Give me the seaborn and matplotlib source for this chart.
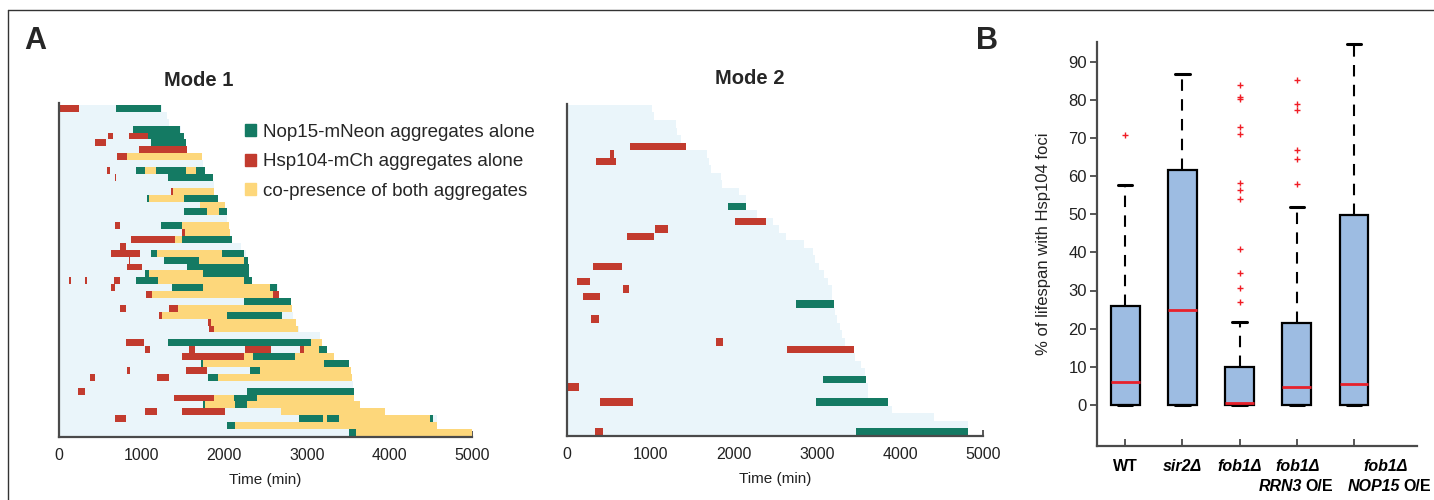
import numpy as np
import pandas as pd
import matplotlib
matplotlib.use('Agg')
import matplotlib.pyplot as plt
from matplotlib.patches import Patch
from matplotlib.lines import Line2D
import seaborn as sns

# ---- panel A data: one row per cell, lifespan = light blue background (min)
MODE1_LIFESPAN = [1240, 1300, 1335, 1470, 1515, 1531, 1550, 1730, 1735, 1770,
                  1860, 1875, 1878, 1920, 2010, 2030, 2036, 2061, 2070, 2090,
                  2202, 2265, 2285, 2300, 2302, 2340, 2645, 2660, 2810, 2820,
                  2836, 2865, 2900, 3160, 3184, 3244, 3332, 3515, 3535, 3550,
                  3564, 3572, 3575, 3645, 3950, 4580, 4582, 5010]

# (row, start, end)
MODE1_NOP15 = [(0, 687, 1228), (3, 897, 1463), (4, 1079, 1515), (5, 1107, 1531),
               (9, 930, 1039), (9, 1172, 1531), (9, 1653, 1770), (10, 1321, 1859),
               (13, 1063, 1091), (13, 1515, 1919), (15, 1511, 1786), (15, 1940, 2028),
               (17, 1228, 1483), (19, 1483, 2089), (21, 1107, 1188), (21, 1968, 2238),
               (22, 1273, 1697), (22, 2242, 2283), (23, 1548, 2299), (24, 1039, 1091),
               (24, 1746, 2299), (25, 929, 1200), (25, 2242, 2340), (26, 1370, 1746),
               (26, 2554, 2643), (28, 2238, 2804), (30, 2028, 2703), (34, 1321, 3046),
               (35, 3152, 3244), (36, 2344, 2855), (37, 1713, 1746), (37, 3212, 3515),
               (38, 2311, 2432), (39, 1802, 1923), (41, 2271, 3572), (42, 2117, 2400),
               (43, 1746, 1766), (43, 2130, 2271), (45, 2909, 3200), (45, 3244, 3394),
               (45, 4493, 4533), (46, 2028, 2133), (47, 3515, 3592)]

MODE1_HSP104 = [(0, 8, 239), (4, 594, 655), (4, 841, 1079), (5, 429, 566),
                (6, 970, 1548), (7, 703, 824), (9, 582, 614), (10, 671, 691),
                (12, 1350, 1382), (17, 671, 736), (18, 1483, 1527), (19, 865, 1406),
                (20, 736, 808), (21, 626, 978), (22, 841, 857), (23, 825, 1006),
                (25, 121, 138), (25, 311, 340), (25, 667, 736), (26, 630, 671),
                (27, 1051, 1120), (27, 2586, 2659), (29, 736, 808), (29, 1333, 1443),
                (30, 1212, 1241), (31, 1802, 1843), (32, 1818, 1875), (34, 808, 1022),
                (35, 1035, 1095), (35, 1576, 1649), (35, 2251, 2566), (35, 2913, 2970),
                (36, 1487, 2237), (38, 824, 857), (38, 1532, 1786), (39, 372, 433),
                (39, 1188, 1334), (41, 223, 315), (42, 1394, 1875), (44, 1035, 1184),
                (44, 1487, 2008), (45, 671, 808)]

MODE1_BOTH = [(7, 824, 1729), (9, 1039, 1172), (9, 1531, 1653), (12, 1382, 1875),
              (13, 1091, 1515), (14, 1709, 2008), (15, 1786, 1940), (17, 1483, 2061),
              (18, 1527, 2069), (19, 1406, 1483), (21, 1188, 1968), (22, 1697, 2242),
              (24, 1091, 1746), (25, 1200, 2242), (26, 1746, 2554), (27, 1120, 2586),
              (29, 1443, 2820), (30, 1241, 2028), (31, 1843, 2865), (32, 1875, 2897),
              (34, 3046, 3184), (35, 2970, 3152), (36, 2237, 2344), (36, 2855, 3332),
              (37, 1746, 3212), (38, 2432, 3531), (39, 1923, 3547), (42, 1875, 2117),
              (42, 2400, 3572), (43, 1766, 2130), (43, 2271, 3644), (44, 2687, 3947),
              (45, 3200, 3244), (45, 3394, 4493), (46, 2133, 4582), (47, 3592, 5010)]

MODE2_LIFESPAN = [1022, 1046, 1306, 1318, 1363, 1427, 1683, 1699, 1723, 1843,
                  1859, 2068, 2148, 2150, 2276, 2476, 2548, 2629, 2845, 2949,
                  2978, 3030, 3086, 3138, 3178, 3186, 3202, 3218, 3246, 3278,
                  3306, 3334, 3442, 3458, 3527, 3579, 3591, 3611, 3619, 3859,
                  3907, 4412, 4812, 4812]

MODE2_NOP15 = [(13, 1936, 2148), (26, 2749, 3202), (36, 3070, 3590),
               (39, 2990, 3859), (43, 3470, 4812)]

MODE2_HSP104 = [(5, 754, 1427), (6, 513, 565), (7, 345, 585), (15, 2012, 2389),
                (16, 1054, 1214), (17, 722, 1038), (21, 305, 661), (23, 121, 269),
                (24, 673, 738), (25, 193, 389), (28, 285, 377), (31, 1788, 1868),
                (32, 2645, 3442), (37, 0, 137), (39, 389, 794), (43, 329, 433)]

MODE2_BOTH = []

# ---- panel B data: % of lifespan with Hsp104 foci
GENOTYPES = ['WT', 'sir2Δ', 'fob1Δ', 'fob1Δ RRN3 O/E', 'fob1Δ NOP15 O/E']
Q1 = [0, 0, 0, 0, 0]
MEDIAN = [5.9, 25.0, 0.5, 4.6, 5.5]
Q3 = [26.0, 61.5, 10.0, 21.5, 49.8]
WHISK_LO = [0, 0, 0, 0, 0]
WHISK_HI = [57.7, 86.7, 21.7, 51.8, 94.7]
OUT_WT = [70.7]
OUT_SIR2 = []
OUT_FOB1 = [83.8, 80.6, 80.2, 72.9, 70.9, 58.3, 56.3, 54.1, 40.8, 34.7, 30.7, 27.1]
OUT_RRN3 = [85.2, 79.0, 77.3, 66.8, 64.5, 57.9]
OUT_NOP15 = []

GREEN = '#147a63'
RED = '#c23b2e'
YELLOW = '#fdd77b'
LIGHT = '#eaf5fa'
SPINE = '#4a4a4a'

sns.set_theme(style='ticks')
plt.rcParams['font.family'] = ['Liberation Sans', 'DejaVu Sans']
plt.rcParams['axes.edgecolor'] = SPINE

fig = plt.figure(figsize=(14.34, 5.0), dpi=100)
W, H = 1434, 500


def px_axes(left, top, right, bottom):
    return fig.add_axes([left / W, 1 - bottom / H, (right - left) / W, (bottom - top) / H])


def draw_mode(ax, life, nop, hsp, both, ylim):
    rows = np.arange(len(life))
    ax.barh(rows, life, left=0, height=1, align='edge', color=LIGHT, lw=0)
    for segs, col in [(both, YELLOW), (nop, GREEN), (hsp, RED)]:
        if not segs:
            continue
        df = pd.DataFrame(segs, columns=['row', 'start', 'end'])
        ax.barh(df['row'], df['end'] - df['start'], left=df['start'], height=1,
                align='edge', color=col, lw=0)
    ax.set_xlim(0, 5000)
    ax.set_ylim(*ylim)
    ax.set_yticks([])
    ax.set_xticks([0, 1000, 2000, 3000, 4000, 5000])
    ax.tick_params(axis='x', direction='in', length=4, width=1.3, color=SPINE,
                   labelsize=11.5, pad=8, labelcolor='#222')
    sns.despine(ax=ax)
    for s in ['left', 'bottom']:
        ax.spines[s].set_linewidth(1.6)
        ax.spines[s].set_color(SPINE)
    ax.set_xlabel('Time (min)', fontsize=11, labelpad=7, color='#222')


ax1 = px_axes(59.3, 103, 472, 437)
draw_mode(ax1, MODE1_LIFESPAN, MODE1_NOP15, MODE1_HSP104, MODE1_BOTH, (48.16, -0.29))

ax2 = px_axes(567.3, 104, 983.3, 436)
draw_mode(ax2, MODE2_LIFESPAN, MODE2_NOP15, MODE2_HSP104, MODE2_BOTH, (44.04, -0.13))

handles = [Patch(color=GREEN, label='Nop15-mNeon aggregates alone'),
           Patch(color=RED, label='Hsp104-mCh aggregates alone'),
           Patch(color=YELLOW, label='co-presence of both aggregates')]
ax1.legend(handles=handles, loc='upper left', bbox_to_anchor=(0.45, 0.937),
           frameon=False, fontsize=13.5, handlelength=0.6, handleheight=0.6,
           handletextpad=0.35, labelspacing=0.66, borderpad=0, borderaxespad=0)

fig.text(199 / W, 1 - 80 / H, 'Mode 1', fontsize=14.5, fontweight='bold', ha='center', va='center')
fig.text(750 / W, 1 - 79 / H, 'Mode 2', fontsize=14.5, fontweight='bold', ha='center', va='center')
fig.text(35.5 / W, 1 - 41 / H, 'A', fontsize=22, fontweight='bold', ha='center', va='center')
fig.text(987 / W, 1 - 41 / H, 'B', fontsize=22, fontweight='bold', ha='center', va='center')

# ---- panel B
axb = px_axes(1096.7, 41.7, 1416.7, 446)
positions = np.arange(1, len(GENOTYPES) + 1)
stats = []
for i, g in enumerate(GENOTYPES):
    stats.append(dict(label=g, q1=Q1[i], med=MEDIAN[i], q3=Q3[i],
                      whislo=WHISK_LO[i], whishi=WHISK_HI[i], fliers=[]))
axb.bxp(stats, positions=positions, widths=0.5, capwidths=0.25, patch_artist=True,
        showfliers=False,
        boxprops=dict(facecolor='#9dbce2', edgecolor='black', linewidth=1.6),
        medianprops=dict(color='#e8212b', linewidth=2),
        whiskerprops=dict(color='black', linewidth=1.5, linestyle=(0, (5.5, 4))),
        capprops=dict(color='black', linewidth=2.2))

fl = []
for pos, vals in zip(positions, [OUT_WT, OUT_SIR2, OUT_FOB1, OUT_RRN3, OUT_NOP15]):
    for v in vals:
        fl.append((pos, v))
fl = pd.DataFrame(fl, columns=['pos', 'value'])
sns.scatterplot(data=fl, x='pos', y='value', marker='+', color='#f01d25', s=16,
                linewidth=1.0, ax=axb, legend=False, zorder=5)

axb.set_xlim(0.5, 6.1)
axb.set_ylim(-10.75, 95.2)
axb.set_yticks(np.arange(0, 100, 10))
axb.set_xticks(positions)
axb.set_xticklabels([])
axb.set_xlabel('')
axb.tick_params(axis='y', direction='out', length=5, width=1.3, color=SPINE,
                labelsize=12, pad=2, labelcolor='#222')
axb.tick_params(axis='x', direction='in', length=5, width=1.3, color=SPINE)
sns.despine(ax=axb)
for s in ['left', 'bottom']:
    axb.spines[s].set_linewidth(1.6)
    axb.spines[s].set_color(SPINE)
axb.set_ylabel('% of lifespan with Hsp104 foci', fontsize=12, color='#222')
axb.yaxis.set_label_coords(-0.143, 0.5)

# tick labels for genotypes (mixed italic / upright)
lab_kw = dict(xycoords=('data', 'axes fraction'), textcoords='offset points',
              fontsize=11.5, fontweight='bold', va='top', color='black')
pt = 0.72
axb.annotate('WT', xy=(1, 0), xytext=(0, -13 * pt), ha='center', **lab_kw)
axb.annotate('sir2Δ', xy=(2, 0), xytext=(0, -13 * pt), ha='center', style='italic', **lab_kw)
axb.annotate('fob1Δ', xy=(3, 0), xytext=(0, -13 * pt), ha='center', style='italic', **lab_kw)
axb.annotate('fob1Δ', xy=(4, 0), xytext=(1 * pt, -13 * pt), ha='center', style='italic', **lab_kw)
axb.annotate('RRN3', xy=(4, 0), xytext=(5 * pt, -33 * pt), ha='right', style='italic', **lab_kw)
axb.annotate('O/E', xy=(4, 0), xytext=(9 * pt, -33 * pt), ha='left', **lab_kw)
axb.annotate('fob1Δ', xy=(5, 0), xytext=(32 * pt, -13 * pt), ha='center', style='italic', **lab_kw)
axb.annotate('NOP15', xy=(5, 0), xytext=(46 * pt, -33 * pt), ha='right', style='italic', **lab_kw)
axb.annotate('O/E', xy=(5, 0), xytext=(50 * pt, -33 * pt), ha='left', **lab_kw)

# outer frame
fig.add_artist(Line2D([8 / W, 1], [1 - 10 / H, 1 - 10 / H], transform=fig.transFigure,
                      color='#333333', lw=1))
fig.add_artist(Line2D([8 / W, 8 / W], [0, 1 - 10 / H], transform=fig.transFigure,
                      color='#333333', lw=1))

fig.savefig('out.png', dpi=100)
